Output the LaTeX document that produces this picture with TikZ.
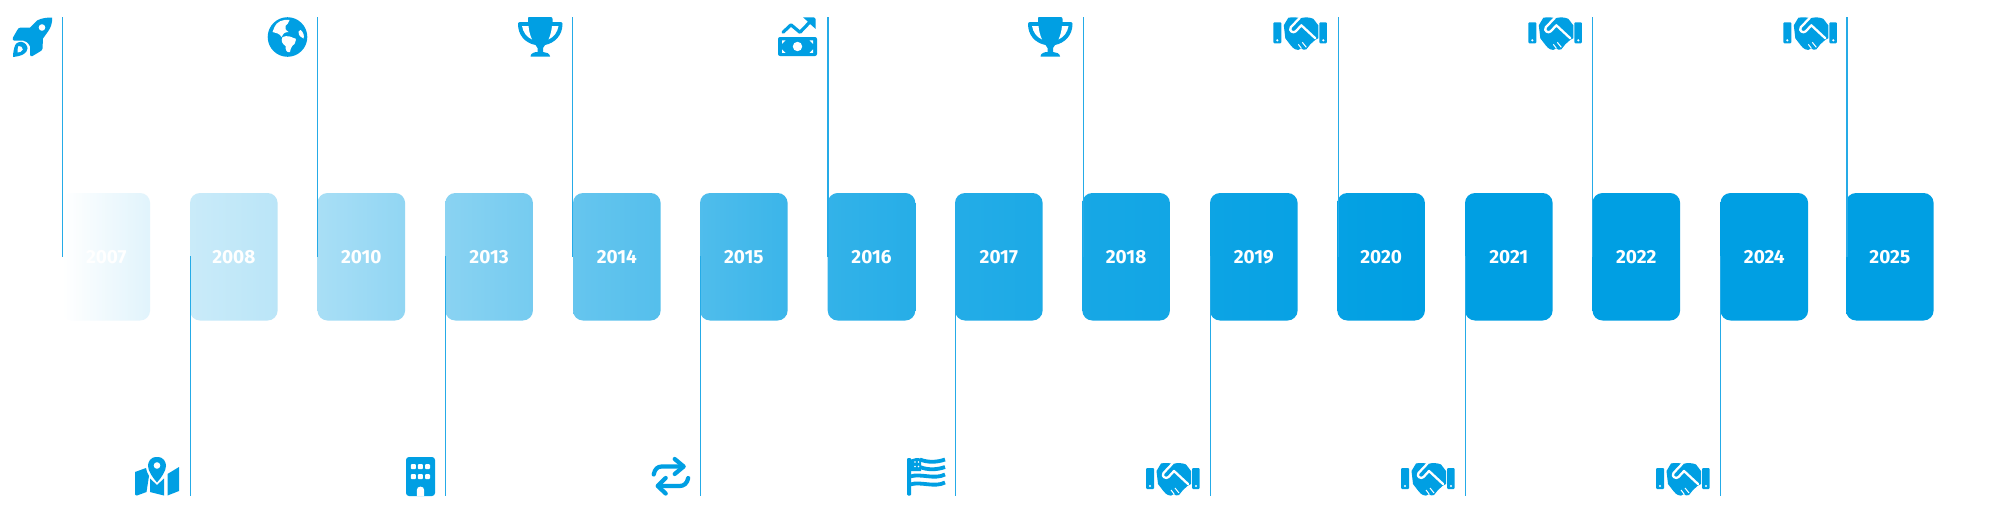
\documentclass[tikz,border=0pt]{standalone}
\usepackage{fontspec}
\setmainfont{Fira Sans}
\definecolor{brand}{HTML}{009FE3}
\definecolor{tickblue}{HTML}{25ABE7}
\tikzset{
  x=1pt,y=-1pt,
  yearbox/.style={rounded corners=10pt,inner sep=0pt,minimum width=0pt},
  yeartext/.style={text=white,font=\fontsize{19}{19}\selectfont\bfseries,inner sep=0pt},
  tick/.style={draw=tickblue,line width=1.2pt},
  pics/rocket/.style={code={
    \fill[brand] (24,3) .. controls (29,0.5) and (34,0) .. (39,0) .. controls (39.5,5) and (38,10) .. (35,14) -- (30,21) -- (29.5,31) .. controls (29.5,32.5) and (28.5,33) .. (27,34) -- (19.5,38.5) .. controls (18,39.5) and (17,38.5) .. (17,37) -- (17,29) .. controls (15,25) and (13,23.5) .. (10,23) -- (1,23) .. controls (0,23) and (-0.5,22) .. (0,20) -- (4,13) .. controls (5,11) and (6,10) .. (8,10) -- (17,10) -- cycle;
    \fill[white] (29,10) circle (3.3);
    \fill[brand] (2,28) .. controls (3,25) and (7,24) .. (9,24.5) .. controls (12,25) and (14.5,28) .. (14.5,31) .. controls (14,36) and (9,38.5) .. (0,39.5) .. controls (0,35) and (1,31) .. (2,28) -- cycle;
    \fill[white] (5.5,28.5) .. controls (7.5,28) and (10,30) .. (9.8,32) .. controls (9,34) and (6.5,35) .. (4.5,35) .. controls (4.5,33) and (4.7,30) .. (5.5,28.5) -- cycle;
  }},
  pics/globe/.style={code={
    \fill[brand] (20,20) circle (19.8);
    \fill[white] (7,10) .. controls (9,5) and (15,2) .. (22,3) .. controls (22,6) and (19,7) .. (18,9) .. controls (17,11) and (18,13) .. (21,15) .. controls (17,15) and (15,17) .. (14,20) .. controls (12,16) and (8,16) .. (5,15) -- cycle;
    \fill[white] (15,20) .. controls (20,18) and (24,20) .. (26,21) .. controls (30,21) and (28,24) .. (27,27) .. controls (25,28) and (23,31) .. (22.5,35) .. controls (19,36) and (18,33) .. (18,29) .. controls (15,27) and (13,24) .. (15,20) -- cycle;
    \fill[white] (33,13) .. controls (36,15) and (37,19) .. (36,21.5) .. controls (33,21) and (31,18) .. (31,14.5) -- cycle;
  }},
  pics/trophy/.style={code={
    \fill[brand] (11,0) -- (33,0) .. controls (34,0) and (34.5,1) .. (34.5,2) -- (34.5,5) -- (42.5,5) .. controls (44,5) and (44.5,6) .. (44.5,7) .. controls (44.5,18) and (37,26) .. (27,28) -- (25,31) -- (25,35) .. controls (28,35) and (32,36.5) .. (32,39.5) -- (12.5,39.5) .. controls (12.5,36.5) and (16,35) .. (19.5,35) -- (19.5,31) -- (17.5,28) .. controls (7,26) and (0,18) .. (0,7) .. controls (0,6) and (0.5,5) .. (2,5) -- (10,5) -- (10,2) .. controls (10,1) and (10,0) .. (11,0) -- cycle;
    \fill[white] (4,9) -- (10.5,9) .. controls (11,14) and (12,18) .. (14,22.5) .. controls (8.5,20) and (5,15) .. (4,9) -- cycle;
    \fill[white] (40.5,9) -- (34,9) .. controls (33.5,14) and (32.5,18) .. (30.5,22.5) .. controls (36,20) and (39.5,15) .. (40.5,9) -- cycle;
  }},
  pics/money/.style={code={
    \draw[brand,line width=3.2pt,line cap=round,line join=round] (5,15) -- (13,7.5) -- (22,15) -- (33,3.5);
    \fill[brand] (25,0) -- (36,0) .. controls (37,0) and (37.5,0.5) .. (37.5,1.5) -- (37.5,11.5) -- (33,7.5) -- (29.5,4) -- cycle;
    \fill[brand,rounded corners=2pt] (0,19.7) rectangle (39,38.7);
    \fill[white] (19.5,29.2) circle (4.7);
    \fill[white] (4,23) -- (7.5,23) -- (4,26.5) -- cycle;
    \fill[white] (35,23) -- (31.5,23) -- (35,26.5) -- cycle;
    \fill[white] (4,35.5) -- (7.5,35.5) -- (4,32) -- cycle;
    \fill[white] (35,35.5) -- (31.5,35.5) -- (35,32) -- cycle;
  }},
  pics/shake/.style={code={
    \fill[brand,rounded corners=1pt] (0,5) rectangle (8,26);
    \fill[brand,rounded corners=1pt] (46,5) rectangle (53.5,26);
    \fill[white] (4,23) circle (1.2);
    \fill[white] (50,23) circle (1.2);
    \fill[brand] (15,0.5) .. controls (19,-0.5) and (24,0) .. (27,1) .. controls (31,-0.5) and (37,0) .. (40,1.5) -- (45,8) -- (45,21) -- (42,22.5) -- (37,27) -- (33,32) .. controls (31,33) and (29,32.5) .. (28,31) .. controls (26,33) and (24,33) .. (22,32) .. controls (19,31) and (16,26) .. (12,21) -- (10.5,8) -- cycle;
    \draw[white,line width=2.3pt,line cap=round,line join=round] (42,21) -- (28,8) -- (22.5,14) .. controls (20,16.5) and (15,13.5) .. (17.5,10) -- (26.5,0.5);
    \draw[white,line width=1pt] (28,31) -- (25,27) (33,30) -- (29,25);
  }},
  pics/mapicon/.style={code={
    \fill[brand] (0,15) -- (11,11) .. controls (11.5,14) and (12.5,16.5) .. (14,19) -- (11.5,35) -- (2,38.5) .. controls (0.8,38.5) and (0,38) .. (0,37) -- cycle;
    \fill[brand] (32.5,17) -- (44,10) -- (44,34) -- (32.5,38.5) -- cycle;
    \fill[brand] (15,21.5) -- (22,28) -- (29,21.5) -- (29,38.5) -- (15,35) -- cycle;
    \fill[brand] (22,0) .. controls (15,0) and (13,5) .. (13,9) .. controls (13,14) and (18,21) .. (22,25.5) .. controls (26,21) and (31,14) .. (31,9) .. controls (31,5) and (29,0) .. (22,0) -- cycle;
    \fill[white] (22,8.5) circle (3.3);
  }},
  pics/building/.style={code={
    \fill[brand,rounded corners=3pt] (0,0) rectangle (29,39);
    \foreach \i in {0,1,2} \foreach \j in {0,1} {
      \fill[white,rounded corners=1pt] (4.8+\i*7.1,7+\j*10) rectangle ++(5,5.2);
    }
    \fill[white] (10.8,39.2) -- (10.8,33) .. controls (10.8,28.5) and (18.2,28.5) .. (18.2,33) -- (18.2,39.2) -- cycle;
  }},
  pics/swap/.style={code={
    \begin{scope}[brand,line width=4.2pt,line cap=round,line join=round]
    \draw (2,17.5) .. controls (3,12) and (6,9.5) .. (10,9.5) -- (31,9.5);
    \draw (23,2) -- (32,9.5) -- (23,17);
    \draw (36.5,21) .. controls (35.5,26.5) and (32,29) .. (28,29) -- (7,29);
    \draw (14,21) -- (6,29) -- (14,36.5);
    \end{scope}
  }},
  pics/flag/.style={code={
    \fill[brand,rounded corners=1pt] (0,1) rectangle (4.2,38.5);
    \fill[brand] (4,2.5) .. controls (7,1) and (10,0.8) .. (14,1.5) -- (14,14) -- (4,14) -- cycle;
    \foreach \p in {8,11.5} \foreach \q in {5,9.5} {\fill[white] (\p,\q) circle (0.9);}
    \begin{scope}[brand,line width=3.8pt]
    \draw (13,2.5) .. controls (20,5.5) and (30,5.5) .. (38,2.5);
    \draw (13,10) .. controls (20,13) and (30,13) .. (38,10);
    \draw (3,19.5) .. controls (14,16) and (27,23) .. (38,17.5);
    \draw (3,27.5) .. controls (14,24) and (27,31) .. (38,25.5);
    \end{scope}
  }},
}
% \yearcard{name}{year}{left x}{opacity at left}{opacity at right}
\newcommand{\yearcard}[5]{%
  \path[yearbox,left color=brand!#4!white,right color=brand!#5!white] (#3,193) rectangle (#3+87.6,320.5);
  \node[yeartext] (#1) at (#3+43.8,257) {#2};
}
\begin{document}
\begin{tikzpicture}
\useasboundingbox (0,0) rectangle (2000,522);
\fill[white] (0,0) rectangle (2000,522);
\foreach \n/\x in {a/62.5,b/317.8,c/572.8,d/828,e/1083.5,f/1338.5,g/1592.5,h/1847}{
  \coordinate (top\n) at (\x,17);
  \coordinate (mid\n) at (\x,257);
}
\foreach \n/\x in {i/190.3,j/445.5,k/700.5,l/955.8,m/1210.5,n/1465.5,o/1720.5}{
  \coordinate (low\n) at (\x,256);
  \coordinate (bot\n) at (\x,496);
}
\yearcard{y07}{2007}{62.5}{0}{12}
\yearcard{y08}{2008}{190}{21}{27}
\yearcard{y10}{2010}{317.5}{34}{43}
\yearcard{y13}{2013}{445.3}{46}{54}
\yearcard{y14}{2014}{573}{60}{67}
\yearcard{y15}{2015}{700}{69}{77}
\yearcard{y16}{2016}{827.7}{80}{85}
\yearcard{y17}{2017}{955}{86}{89}
\yearcard{y18}{2018}{1082.3}{91}{93}
\yearcard{y19}{2019}{1210}{95}{97}
\yearcard{y20}{2020}{1337.3}{98}{100}
\yearcard{y21}{2021}{1465}{100}{100}
\yearcard{y22}{2022}{1592.5}{100}{100}
\yearcard{y24}{2024}{1720.5}{100}{100}
\yearcard{y25}{2025}{1846}{100}{100}
\foreach \n in {a,b,c,d,e,f,g,h}{\draw[tick] (top\n) -- (mid\n);}
\foreach \n in {i,j,k,l,m,n,o}{\draw[tick] (low\n) -- (bot\n);}
% icons
\pic at (13,17.5) {rocket};
\pic at (267.5,17) {globe};
\pic at (518,17) {trophy};
\pic at (778,17.3) {money};
\pic at (1028,17) {trophy};
\pic at (1273.3,17.3) {shake};
\pic at (1528.3,17.3) {shake};
\pic at (1783.3,17.3) {shake};
\pic at (135,457) {mapicon};
\pic at (406,457) {building};
\pic at (651.7,457) {swap};
\pic at (907,457) {flag};
\pic at (1146,463) {shake};
\pic at (1401,463) {shake};
\pic at (1656,463) {shake};
\end{tikzpicture}
\end{document}
